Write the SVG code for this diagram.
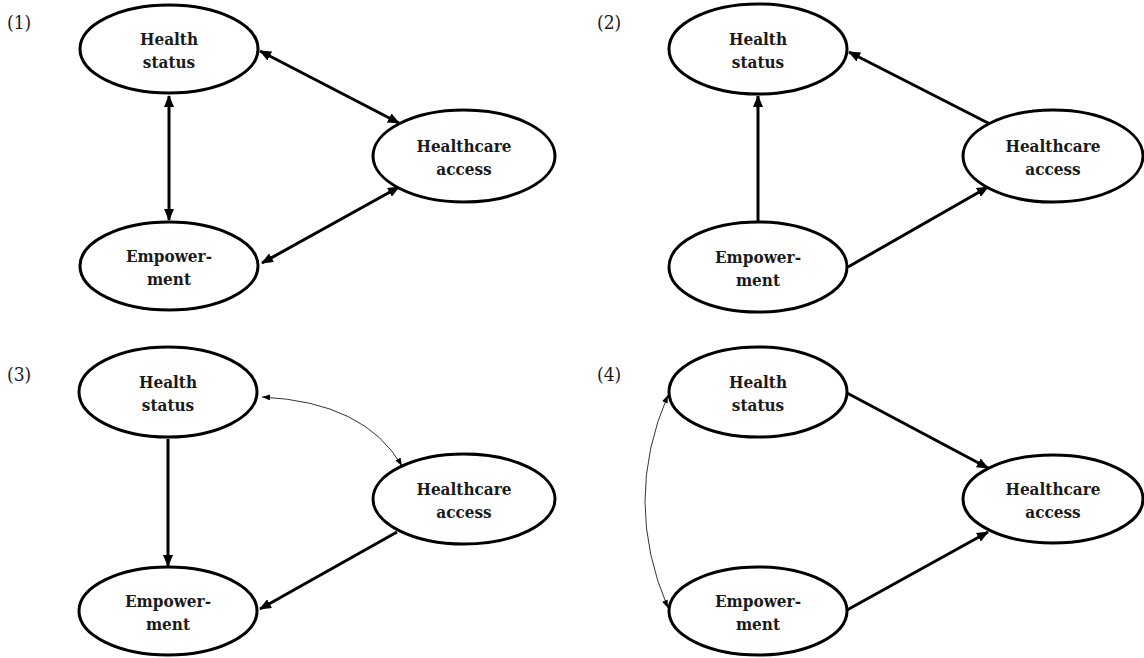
<svg xmlns="http://www.w3.org/2000/svg" width="1144" height="658" viewBox="0 0 1144 658">
  <defs>
    <marker id="ah" markerUnits="userSpaceOnUse" markerWidth="12" markerHeight="10" refX="11" refY="5" orient="auto-start-reverse">
      <path d="M0,0 L12,5 L0,10 z" fill="#000"/>
    </marker>
    <marker id="ahThin" markerUnits="userSpaceOnUse" markerWidth="8" markerHeight="6" refX="8" refY="3" orient="auto-start-reverse">
      <path d="M0,0 L8,3 L0,6 z" fill="#000"/>
    </marker>
  </defs>
  <style>
    .node ellipse { fill: #fff; stroke: #000; stroke-width: 3; }
    .node text { font-family: "DejaVu Serif Condensed", "DejaVu Serif", serif; font-stretch: condensed; font-weight: bold; font-size: 17px; text-anchor: middle; fill: #1a1a1a; }
    .panel-label { font-family: "DejaVu Serif Condensed", "DejaVu Serif", serif; font-stretch: condensed; font-size: 19px; fill: #1a1a1a; }
    .edge { fill: none; stroke: #000; stroke-width: 3; }
    .edge-thin { fill: none; stroke: #000; stroke-width: 0.8; }
  </style>
  <rect width="1144" height="658" fill="#fff"/>

  <!-- panel labels -->
  <text class="panel-label" x="7" y="29">(1)</text>
  <text class="panel-label" x="597" y="29">(2)</text>
  <text class="panel-label" x="7" y="381">(3)</text>
  <text class="panel-label" x="597" y="381">(4)</text>

  <!-- connectors -->
  <g id="connectors">
    <!-- panel 1: all pairs reciprocal -->
    <line class="edge" x1="169" y1="96" x2="169" y2="220" marker-start="url(#ah)" marker-end="url(#ah)"/>
    <line class="edge" x1="260" y1="51" x2="399" y2="123" marker-start="url(#ah)" marker-end="url(#ah)"/>
    <line class="edge" x1="262" y1="263" x2="399" y2="187" marker-start="url(#ah)" marker-end="url(#ah)"/>
    <!-- panel 2 -->
    <line class="edge" x1="758" y1="222" x2="758" y2="96" marker-end="url(#ah)"/>
    <line class="edge" x1="990" y1="124" x2="849" y2="52" marker-end="url(#ah)"/>
    <line class="edge" x1="848" y1="267" x2="988" y2="187" marker-end="url(#ah)"/>
    <!-- panel 3 -->
    <line class="edge" x1="168" y1="439" x2="168" y2="566" marker-end="url(#ah)"/>
    <line class="edge" x1="397" y1="532" x2="260" y2="609" marker-end="url(#ah)"/>
    <path class="edge-thin" d="M262,397 Q365,402 402,466" marker-start="url(#ahThin)" marker-end="url(#ahThin)"/>
    <!-- panel 4 -->
    <line class="edge" x1="847" y1="393" x2="988" y2="468" marker-end="url(#ah)"/>
    <line class="edge" x1="847" y1="610" x2="988" y2="532" marker-end="url(#ah)"/>
    <path class="edge-thin" d="M668,395 Q622,501 668,608" marker-start="url(#ahThin)" marker-end="url(#ahThin)"/>
  </g>

  <!-- panel 1 nodes -->
  <g id="p1-health" class="node">
    <ellipse cx="169" cy="49" rx="89" ry="44"/>
    <text x="169" y="45">Health</text>
    <text x="169" y="68">status</text>
  </g>
  <g id="p1-access" class="node">
    <ellipse cx="464" cy="156" rx="91" ry="46"/>
    <text x="464" y="152">Healthcare</text>
    <text x="464" y="175">access</text>
  </g>
  <g id="p1-empower" class="node">
    <ellipse cx="169" cy="266" rx="89" ry="44"/>
    <text x="169" y="262">Empower-</text>
    <text x="169" y="285">ment</text>
  </g>

  <!-- panel 2 nodes -->
  <g id="p2-health" class="node">
    <ellipse cx="758" cy="49" rx="89" ry="45"/>
    <text x="758" y="45">Health</text>
    <text x="758" y="68">status</text>
  </g>
  <g id="p2-access" class="node">
    <ellipse cx="1053" cy="156" rx="90" ry="46"/>
    <text x="1053" y="152">Healthcare</text>
    <text x="1053" y="175">access</text>
  </g>
  <g id="p2-empower" class="node">
    <ellipse cx="758" cy="267" rx="89" ry="45"/>
    <text x="758" y="263">Empower-</text>
    <text x="758" y="286">ment</text>
  </g>

  <!-- panel 3 nodes -->
  <g id="p3-health" class="node">
    <ellipse cx="168" cy="392" rx="89" ry="45"/>
    <text x="168" y="388">Health</text>
    <text x="168" y="411">status</text>
  </g>
  <g id="p3-access" class="node">
    <ellipse cx="464" cy="499" rx="91" ry="45"/>
    <text x="464" y="495">Healthcare</text>
    <text x="464" y="518">access</text>
  </g>
  <g id="p3-empower" class="node">
    <ellipse cx="168" cy="611" rx="89" ry="44"/>
    <text x="168" y="607">Empower-</text>
    <text x="168" y="630">ment</text>
  </g>

  <!-- panel 4 nodes -->
  <g id="p4-health" class="node">
    <ellipse cx="758" cy="392" rx="89" ry="45"/>
    <text x="758" y="388">Health</text>
    <text x="758" y="411">status</text>
  </g>
  <g id="p4-access" class="node">
    <ellipse cx="1053" cy="499" rx="90" ry="44"/>
    <text x="1053" y="495">Healthcare</text>
    <text x="1053" y="518">access</text>
  </g>
  <g id="p4-empower" class="node">
    <ellipse cx="758" cy="611" rx="89" ry="44"/>
    <text x="758" y="607">Empower-</text>
    <text x="758" y="630">ment</text>
  </g>
</svg>
